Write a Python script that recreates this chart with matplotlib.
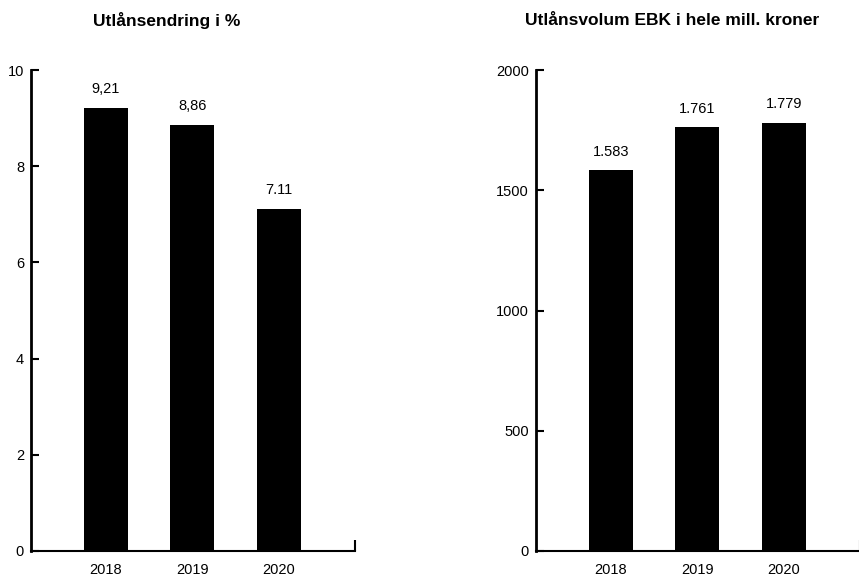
import matplotlib
matplotlib.use('Agg')
import matplotlib.pyplot as plt

plt.rcParams['font.family'] = ['Liberation Sans', 'DejaVu Sans']

years = ['2018', '2019', '2020']
pct_change = [9.21, 8.86, 7.11]
pct_labels = ['9,21', '8,86', '7.11']
volume = [1583, 1761, 1779]
volume_labels = ['1.583', '1.761', '1.779']

fig = plt.figure(figsize=(8.59, 5.76), dpi=100)

def bar_panel(rect, values, labels, ymax, yticks, title, title_x):
  ax = fig.add_axes(rect)
  x = range(len(values))
  ax.bar(x, values, width=0.51, color='black')
  for xi, v, lab in zip(x, values, labels):
    ax.annotate(lab, (xi, v), xytext=(0, 13.5), textcoords='offset points',
                ha='center', va='center', fontsize=10.5)
  ax.set_xlim(-0.867, 2.88)
  ax.set_ylim(0, ymax)
  ax.set_yticks(yticks)
  ax.set_xticks(list(x))
  ax.set_xticklabels(years, fontsize=10.5)
  ax.tick_params(axis='x', length=0, pad=9)
  ax.tick_params(axis='y', direction='in', length=6, width=1.5, pad=5, labelsize=10.5)
  for s in ('top', 'right'):
    ax.spines[s].set_visible(False)
  ax.spines['left'].set_linewidth(2)
  ax.spines['bottom'].set_linewidth(1.5)
  # small upward mark closing off the category axis
  ax.plot([1, 1], [0, 0.022], transform=ax.transAxes, color='black',
          lw=1.5, clip_on=False, solid_capstyle='butt')
  fig.text(title_x, 0.965, title, ha='center', va='center',
           fontsize=12.5, fontweight='bold')
  return ax

bar_panel([31 / 859, 25 / 576, 324 / 859, 481 / 576], pct_change, pct_labels,
          10, [0, 2, 4, 6, 8, 10], 'Utlånsendring i %', 167 / 859)
bar_panel([536 / 859, 25 / 576, 324 / 859, 481 / 576], volume, volume_labels,
          2000, [0, 500, 1000, 1500, 2000],
          'Utlånsvolum EBK i hele mill. kroner', 672 / 859)

fig.savefig('out.png', dpi=100)
